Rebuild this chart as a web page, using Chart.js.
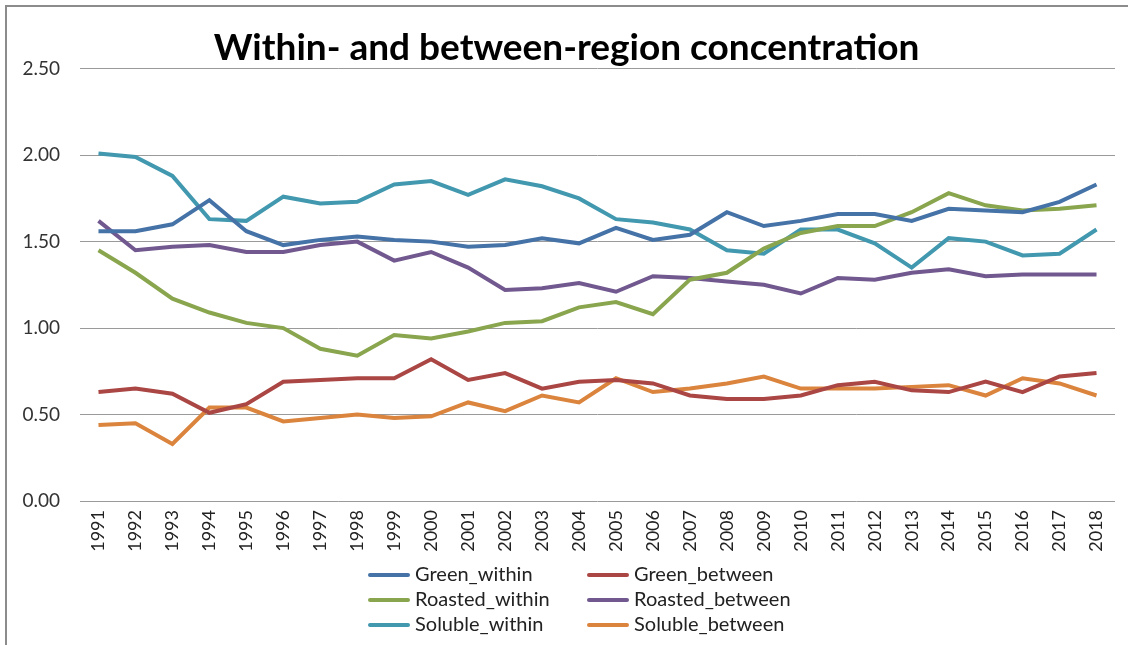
<!DOCTYPE html>
<html>
<head>
<meta charset="utf-8">
<script src="https://cdn.jsdelivr.net/npm/chart.js@4/dist/chart.umd.min.js"></script>
<style>
  body { margin: 0; background: #fff; }
  #wrap { position: relative; width: 1128px; height: 645px; overflow: hidden; }
  #frame { position: absolute; left: 5px; top: 5px; width: 1140px; height: 660px; border: 2px solid #8c8c8c; box-sizing: border-box; }
  #c { position: absolute; left: 0; top: 0; }
  .leg { position: absolute; font-family: Lato, "Liberation Sans", sans-serif; font-size: 20px; color: #222; line-height: 22px; white-space: nowrap; }
  .leg span.ln { display: inline-block; width: 42px; height: 4px; border-radius: 2px; vertical-align: middle; margin-right: 5px; position: relative; top: -1px; }
</style>
</head>
<body>
<div id="wrap">
  <div id="frame"></div>
  <canvas id="c" width="1128" height="645"></canvas>
  <div id="legend"></div>
</div>
<script>
var years = ["1991","1992","1993","1994","1995","1996","1997","1998","1999","2000",
             "2001","2002","2003","2004","2005","2006","2007","2008","2009","2010",
             "2011","2012","2013","2014","2015","2016","2017","2018"];

var greenWithin = [1.56,1.56,1.60,1.74,1.56,1.48,1.51,1.53,1.51,1.50,
                   1.47,1.48,1.52,1.49,1.58,1.51,1.54,1.67,1.59,1.62,
                   1.66,1.66,1.62,1.69,1.68,1.67,1.73,1.83];
var greenBetween = [0.63,0.65,0.62,0.51,0.56,0.69,0.70,0.71,0.71,0.82,
                    0.70,0.74,0.65,0.69,0.70,0.68,0.61,0.59,0.59,0.61,
                    0.67,0.69,0.64,0.63,0.69,0.63,0.72,0.74];
var roastedWithin = [1.45,1.32,1.17,1.09,1.03,1.00,0.88,0.84,0.96,0.94,
                     0.98,1.03,1.04,1.12,1.15,1.08,1.28,1.32,1.46,1.55,
                     1.59,1.59,1.67,1.78,1.71,1.68,1.69,1.71];
var roastedBetween = [1.62,1.45,1.47,1.48,1.44,1.44,1.48,1.50,1.39,1.44,
                      1.35,1.22,1.23,1.26,1.21,1.30,1.29,1.27,1.25,1.20,
                      1.29,1.28,1.32,1.34,1.30,1.31,1.31,1.31];
var solubleWithin = [2.01,1.99,1.88,1.63,1.62,1.76,1.72,1.73,1.83,1.85,
                     1.77,1.86,1.82,1.75,1.63,1.61,1.57,1.45,1.43,1.57,
                     1.57,1.49,1.35,1.52,1.50,1.42,1.43,1.57];
var solubleBetween = [0.44,0.45,0.33,0.54,0.54,0.46,0.48,0.50,0.48,0.49,
                      0.57,0.52,0.61,0.57,0.71,0.63,0.65,0.68,0.72,0.65,
                      0.65,0.65,0.66,0.67,0.61,0.71,0.68,0.61];

var yTicks = [0, 0.5, 1, 1.5, 2, 2.5];

var series = [
    {label: "Green_within", data: greenWithin, color: "#4572A7"},
    {label: "Green_between", data: greenBetween, color: "#AA4643"},
    {label: "Roasted_within", data: roastedWithin, color: "#89A54E"},
    {label: "Roasted_between", data: roastedBetween, color: "#71588F"},
    {label: "Soluble_within", data: solubleWithin, color: "#4198AF"},
    {label: "Soluble_between", data: solubleBetween, color: "#DB843D"}
];

var datasets = [];
series.forEach(function (s) {
    datasets.push({
        label: s.label,
        data: s.data,
        borderColor: s.color,
        backgroundColor: s.color,
        borderWidth: 4,
        pointRadius: 0,
        tension: 0,
        fill: false
    });
});

// legend in two columns like the excel one
var legendBox = document.getElementById("legend");
var colX = [368, 587];
var rowY = [562, 587, 612];
series.forEach(function (s, i) {
    var d = document.createElement("div");
    d.className = "leg";
    d.style.left = colX[i % 2] + "px";
    d.style.top = rowY[Math.floor(i / 2)] + "px";
    d.innerHTML = '<span class="ln" style="background:' + s.color + '"></span>' + s.label;
    legendBox.appendChild(d);
});

Chart.defaults.font.family = "Lato, 'Liberation Sans', sans-serif";
Chart.defaults.color = "#333";

new Chart(document.getElementById("c").getContext("2d"), {
    type: "line",
    data: {labels: years, datasets: datasets},
    options: {
        responsive: false,
        animation: false,
        layout: {padding: {left: 18, right: 13, top: 0, bottom: 85}},
        plugins: {
            legend: {display: false},
            tooltip: {enabled: false},
            title: {
                display: true,
                text: "Within- and between-region concentration",
                color: "#000",
                font: {size: 37, weight: "bold", lineHeight: 1.1},
                padding: {top: 28, bottom: 0}
            }
        },
        scales: {
            x: {
                offset: true,
                grid: {display: false, drawTicks: false},
                border: {display: false},
                ticks: {minRotation: 90, maxRotation: 90, padding: 9, font: {size: 18}, color: "#222", autoSkip: false},
                afterFit: function (scale) { scale.height = 59; }
            },
            y: {
                min: 0,
                max: 2.5,
                afterBuildTicks: function (scale) {
                    scale.ticks = yTicks.map(function (v) { return {value: v}; });
                },
                grid: {color: "#9a9a9a", lineWidth: 1, drawTicks: false},
                border: {display: false},
                ticks: {
                    padding: 20,
                    font: {size: 19},
                    color: "#333",
                    callback: function (v) { return Number(v).toFixed(2); }
                },
                afterFit: function (scale) { scale.width = 62; }
            }
        }
    }
});
</script>
</body>
</html>
